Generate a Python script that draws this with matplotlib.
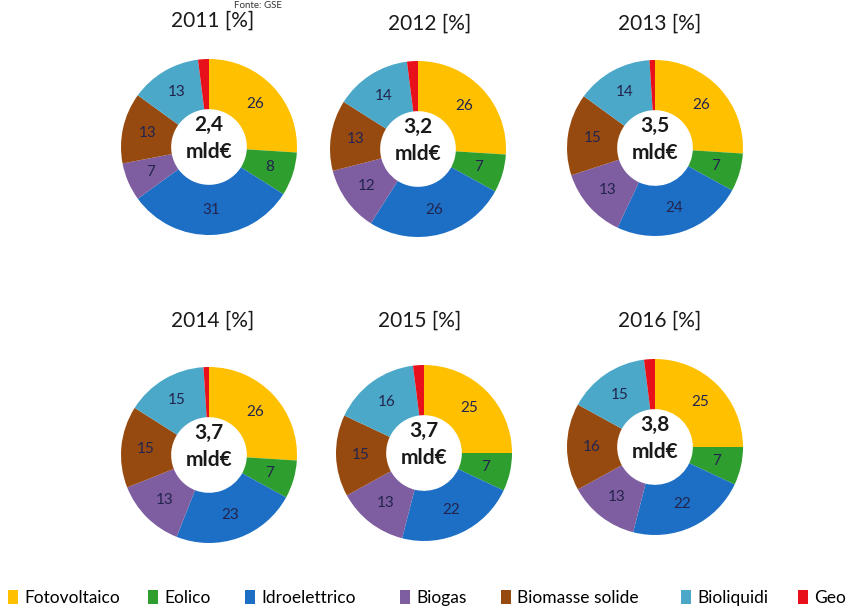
import matplotlib
matplotlib.use('Agg')
import matplotlib.pyplot as plt
from matplotlib.patches import Patch

plt.rcParams['font.family'] = ['Lato', 'DejaVu Sans']

# dati (quote % per fonte)
fonti = ['Fotovoltaico', 'Eolico', 'Idroelettrico', 'Biogas', 'Biomasse solide', 'Bioliquidi', 'Geo']
colori = ['#FFC000', '#2E9E2E', '#1C6FC4', '#7E5EA0', '#974A10', '#4BA8C8', '#E8101A']

anni = ['2011', '2012', '2013', '2014', '2015', '2016']
totali = ['2,4', '3,2', '3,5', '3,7', '3,7', '3,8']
quote_2011 = [26, 8, 31, 7, 13, 13, 2]
quote_2012 = [26, 7, 26, 12, 13, 14, 2]
quote_2013 = [26, 7, 24, 13, 15, 14, 1]
quote_2014 = [26, 7, 23, 13, 15, 15, 1]
quote_2015 = [25, 7, 22, 13, 15, 16, 2]
quote_2016 = [25, 7, 22, 13, 16, 15, 2]
quote = [quote_2011, quote_2012, quote_2013, quote_2014, quote_2015, quote_2016]

W, H = 860, 610
fig = plt.figure(figsize=(W / 100, H / 100), dpi=100)

# centri delle ciambelle in pixel (x, y dall'alto) e posizione titoli
centri = [(209, 147), (418, 149), (655, 148), (209, 455), (424, 453), (655, 447)]
titoli = [(213, 21), (430, 24), (660, 24), (213, 321), (420, 321), (660, 321)]
R = 88

for i in range(6):
    cx, cy = centri[i]
    ax = fig.add_axes([(cx - R) / W, 1 - (cy + R) / H, 2 * R / W, 2 * R / H])
    wedges, testi = ax.pie(quote[i], colors=colori, startangle=90, counterclock=False,
                           radius=1, wedgeprops=dict(width=0.57, edgecolor='none'),
                           labels=[str(v) if v > 2 else '' for v in quote[i]],
                           labeldistance=0.72)
    for t in testi:
        t.set_ha('center')
        t.set_va('center')
        t.set_fontsize(11)
        t.set_color('#23244e')
    ax.text(0, 0.1, totali[i] + '\nmld€', ha='center', va='center',
            fontsize=15, fontweight='bold', color='#1a1a1a', linespacing=1.45)
    ax.set_xlim(-1, 1)
    ax.set_ylim(-1, 1)
    ax.set_aspect('equal')
    ax.axis('off')
    tx, ty = titoli[i]
    fig.text(tx / W, 1 - ty / H, anni[i] + ' [%]', ha='center', va='center',
             fontsize=15, color='#1a1a1a')

# nota fonte in alto
fig.text(258 / W, 1 - 5 / H, 'Fonte: GSE', ha='center', va='center', fontsize=7, color='#333333')

# legenda: una voce per posizione, come nell'originale
pos_leg = [8, 148, 245, 400, 501, 681, 798]
for k in range(len(fonti)):
    fig.legend([Patch(facecolor=colori[k], edgecolor='none')], [fonti[k]],
               loc='center left', bbox_to_anchor=(pos_leg[k] / W, 1 - 598 / H),
               frameon=False, fontsize=12.5, handlelength=0.6, handleheight=0.9,
               handletextpad=0.35, borderaxespad=0, borderpad=0)

plt.savefig('out.png', dpi=100)
